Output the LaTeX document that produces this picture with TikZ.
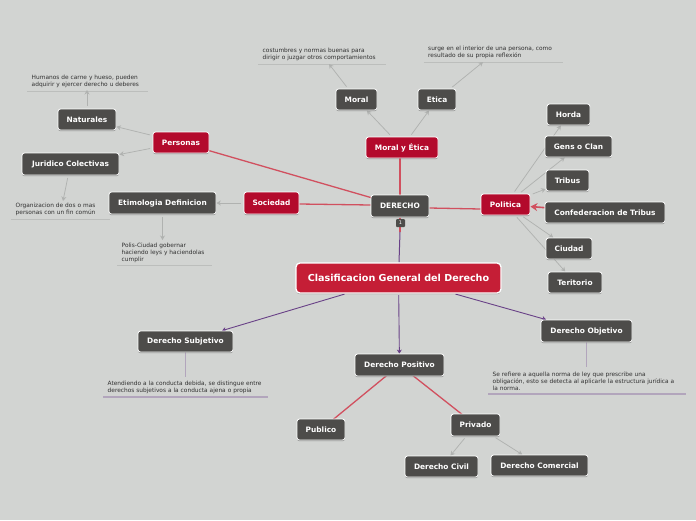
\documentclass[tikz,border=0pt]{standalone}
\usepackage{fontspec}
\setmainfont{DejaVu Sans}
\usetikzlibrary{arrows.meta,shadows,backgrounds}
\definecolor{bgc}{RGB}{210,212,210}
\definecolor{darkbox}{RGB}{77,76,74}
\definecolor{redbox}{RGB}{179,10,44}
\definecolor{rootred}{RGB}{197,30,54}
\definecolor{redline}{RGB}{209,80,95}
\definecolor{purpleline}{RGB}{105,65,135}
\definecolor{palepurple}{RGB}{178,165,188}
\definecolor{grayline}{RGB}{176,178,176}
\definecolor{ruleg}{RGB}{188,190,188}
\definecolor{notetext}{RGB}{50,50,50}
\tikzset{
  x=1pt,y=-1pt,
  box/.style={draw=white,line width=.8pt,fill=darkbox,rounded corners=2.5pt,text=white,
    font=\bfseries\fontsize{7.4}{9}\selectfont,inner sep=0pt,
    drop shadow={shadow xshift=0pt,shadow yshift=-1.2pt,opacity=.3,fill=black}},
  redb/.style={box,fill=redbox},
  rootb/.style={box,fill=rootred,line width=1.3pt,rounded corners=4pt,font=\bfseries\fontsize{9.6}{12}\selectfont},
  note/.style={anchor=south west,inner xsep=4.5pt,inner ysep=3pt,align=left,text=notetext,
    font=\fontsize{5.85}{7}\selectfont},
  rulel/.style={ruleg,line width=.8pt},
  rulep/.style={palepurple,line width=1.1pt},
  grayarrow/.style={grayline,line width=.75pt,shorten <=2.5pt,-{Stealth[length=4.5pt,width=5pt]}},
  redl/.style={redline,line width=1.3pt},
  purplearrow/.style={purpleline,line width=.9pt,shorten <=1.5pt,-{Stealth[length=4pt,width=5pt]}},
  badge/.style={fill=darkbox,rounded corners=1pt,text=white,font=\fontsize{5}{6}\selectfont,inner sep=0pt,minimum width=9pt,minimum height=8pt},
}
\begin{document}
\begin{tikzpicture}
\useasboundingbox (0,0) rectangle (696,520);
% nodes
\node[rootb,minimum width=205pt,minimum height=30pt] (root) at (398.5,278) {Clasificacion General del Derecho};
\node[box,minimum width=58pt,minimum height=22pt] (der) at (400,206) {DERECHO};
\node[redb,minimum width=72pt,minimum height=21pt] (moet) at (402,147.5) {Moral y Ética};
\node[box,minimum width=41pt,minimum height=21pt] (moral) at (356.5,99.5) {Moral};
\node[box,minimum width=38pt,minimum height=21pt] (etica) at (437,99.5) {Etica};
\node[redb,minimum width=55pt,minimum height=22pt] (soc) at (271.5,203) {Sociedad};
\node[redb,minimum width=56pt,minimum height=21pt] (pers) at (181,142.5) {Personas};
\node[box,minimum width=58pt,minimum height=21pt] (nat) at (87,119.5) {Naturales};
\node[box,minimum width=97pt,minimum height=22pt] (jur) at (70.5,164) {Juridico Colectivas};
\node[box,minimum width=107pt,minimum height=22pt] (eti) at (162.5,203) {Etimologia Definicion};
\node[redb,minimum width=49pt,minimum height=21pt] (pol) at (505.5,204.5) {Politica};
\node[box,minimum width=43pt,minimum height=21pt] (hor) at (568.5,114.5) {Horda};
\node[box,minimum width=67pt,minimum height=21pt] (gen) at (578.5,146.5) {Gens o Clan};
\node[box,minimum width=43pt,minimum height=21pt] (tri) at (567.5,180.5) {Tribus};
\node[box,minimum width=120pt,minimum height=21pt] (con) at (605,212.5) {Confederacion de Tribus};
\node[box,minimum width=46pt,minimum height=21pt] (ciu) at (569,248.5) {Ciudad};
\node[box,minimum width=54pt,minimum height=21pt] (ter) at (575,282.5) {Teritorio};
\node[box,minimum width=95pt,minimum height=21pt] (sub) at (185.5,341.5) {Derecho Subjetivo};
\node[box,minimum width=89pt,minimum height=22pt] (posi) at (399.5,365) {Derecho Positivo};
\node[box,minimum width=48pt,minimum height=21pt] (pub) at (321,429.5) {Publico};
\node[box,minimum width=49pt,minimum height=22pt] (pri) at (475.5,425) {Privado};
\node[box,minimum width=73pt,minimum height=21pt] (civ) at (441.5,466.5) {Derecho Civil};
\node[box,minimum width=97pt,minimum height=21pt] (com) at (539.5,465.5) {Derecho Comercial};
\node[box,minimum width=91pt,minimum height=22pt] (obj) at (586.5,331) {Derecho Objetivo};
\node[badge] (bad) at (400.5,223) {1};
% notes
\node[note,text width=112pt] (nnat) at (27,91) {Humanos de carne y hueso, pueden\\adquirir y ejercer derecho u deberes};
\node[note,text width=90pt] (njur) at (11,219) {Organizacion de dos o mas\\personas con un fin común};
\node[note,text width=86pt] (neti) at (117,265.5) {Polis-Ciudad gobernar\\haciendo leys y haciendolas\\cumplir};
\node[note,text width=119pt] (nmor) at (258,64) {costumbres y normas buenas para\\dirigir o juzgar otros comportamientos};
\node[note,text width=130pt] (netc) at (423.5,62) {surge en el interior de una persona, como\\resultado de su propia reflexión};
\node[note,text width=156pt] (nsub) at (103,397) {Atendiendo a la conducta debida, se distingue entre\\derechos subjetivos a la conducta ajena o propia};
\node[note,text width=189pt] (nobj) at (488,394) {Se refiere a aquella norma de ley que prescribe una\\obligación, esto se detecta al aplicarle la estructura jurídica a\\la norma.};
% free ends
\coordinate (tnat) at (87,90);
\coordinate (tjur) at (63,201);
\coordinate (teti) at (162.5,240);
\coordinate (tmor) at (329,64);
\coordinate (tetc) at (483,62);
\coordinate (tsub) at (185.5,377);
\coordinate (tobj) at (586.5,367);
\coordinate (mid) at (400,232);
\begin{pgfonlayer}{background}
\fill[bgc] (0,0) rectangle (696,520);
% underlines
\foreach \n in {nnat,njur,neti,nmor,netc} \draw[rulel] (\n.south west) -- (\n.south east);
\foreach \n in {nsub,nobj} \draw[rulep] (\n.south west) -- (\n.south east);
% red links
\draw[redl] (der.center) -- (der.center |- moet.south);
\draw[redl] (der.center) -- (pers.center);
\draw[redl] ([yshift=1pt]der.west) -- ([yshift=-1pt]soc.east);
\draw[redl] ([yshift=-2pt]der.east) -- ([yshift=-4.5pt]pol.west);
\draw[redl] (posi.center) -- (pub.center);
\draw[redl] (posi.center) -- (pri.center);
% root links
\draw[purpleline,line width=1pt] (root) -- (mid);
\draw[redl,-{Stealth[length=5pt,width=7pt]}] (mid) -- (der);
\draw[purplearrow] (root) -- (sub);
\draw[purplearrow] (root) -- (posi);
\draw[purplearrow] (root) -- (obj);
\draw[rulep] (sub) -- (tsub);
\draw[rulep] (obj) -- (tobj);
% gray arrows
\draw[grayarrow] (moet) -- (moral);
\draw[grayarrow] (moet) -- (etica);
\draw[grayarrow] (moral) -- (tmor);
\draw[grayarrow] (etica) -- (tetc);
\draw[grayarrow] (soc) -- (eti);
\draw[grayarrow] (pers) -- (nat);
\draw[grayarrow] (pers) -- (jur);
\draw[grayarrow] (nat) -- (tnat);
\draw[grayarrow] (jur) -- (tjur);
\draw[grayarrow] (eti) -- (teti);
\draw[grayarrow] (pol) -- (hor);
\draw[grayarrow] (pol) -- (gen);
\draw[grayarrow] (pol) -- (tri);
\draw[grayarrow] (pol) -- (ciu);
\draw[grayarrow] (pol) -- (ter);
\draw[grayarrow] (pri) -- (civ);
\draw[grayarrow] (pri) -- (com);
\draw[redl,line width=1.6pt,-{Stealth[length=7pt,width=8pt]}] (con) -- (pol);
\end{pgfonlayer}
\end{tikzpicture}
\end{document}
